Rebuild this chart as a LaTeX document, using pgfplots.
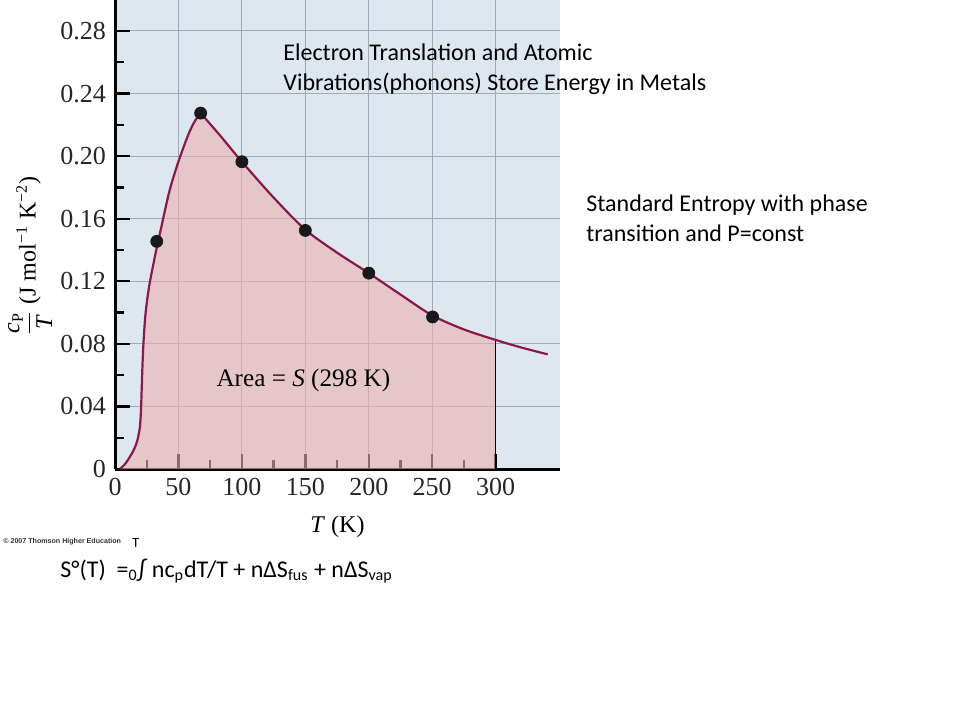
\documentclass[border=0pt]{standalone}
\usepackage{amsmath}
\usepackage{fontspec}
\setmainfont{Liberation Serif}
\newfontfamily\slidefont{Carlito}
\newfontfamily\credfont{Liberation Sans}
\usepackage{pgfplots}
\usepackage{pgfplotstable}
\pgfplotsset{compat=1.18}

\definecolor{bgblue}{RGB}{220,231,240}
\definecolor{areapink}{RGB}{235,179,177}
\definecolor{curvered}{RGB}{140,24,72}
\definecolor{gridgrey}{RGB}{160,170,182}

% c_P/T curve: rising part and falling part
\pgfplotstableread{
T     c
3.9   0
8     0.0033
11.8  0.0079
15    0.0125
17.5  0.018
19.5  0.026
20.4  0.036
21.0  0.050
21.6  0.065
22.4  0.080
23.8  0.097
25.5  0.109
27.6  0.120
32    0.138
37    0.1565
43    0.178
50    0.1965
57.9  0.2140
63    0.2225
67.5  0.2275
}\cprise

\pgfplotstableread{
T     c
67.5  0.2275
83    0.2130
100   0.1964
125   0.1735
150   0.1530
175   0.1383
200   0.1252
225   0.1115
250   0.0982
275   0.0892
300   0.0825
320   0.0777
341   0.0733
}\cpfall

% the shaded area, 0 to 298 K
\pgfplotstableread{
T     c
3.9   0
8     0.0033
11.8  0.0079
15    0.0125
17.5  0.018
19.5  0.026
20.4  0.036
21.0  0.050
21.6  0.065
22.4  0.080
23.8  0.097
25.5  0.109
27.6  0.120
32    0.138
37    0.1565
43    0.178
50    0.1965
57.9  0.2140
63    0.2225
67.5  0.2275
83    0.2130
100   0.1964
125   0.1735
150   0.1530
175   0.1383
200   0.1252
225   0.1115
250   0.0982
275   0.0892
300   0.0825
}\cparea

% measured points
\pgfplotstableread{
T     c
32.9  0.1455
67.5  0.2275
100   0.1964
150   0.1525
200   0.1252
250.3 0.0972
}\cpdata

\begin{document}
\begin{tikzpicture}
\useasboundingbox (0,0) rectangle (480pt,360pt);
\begin{axis}[
  at={(57.5pt,125.5pt)}, anchor=south west,
  scale only axis, width=222.5pt, height=234.5pt,
  xmin=0, xmax=350.7, ymin=0, ymax=0.2998,
  axis x line=bottom, axis y line=left,
  axis line style={-, black, line width=1.5pt},
  axis background/.style={fill=bgblue},
  xtick={0,50,100,150,200,250,300},
  xticklabels={0,50,100,150,200,250,300},
  ytick={0,0.04,0.08,0.12,0.16,0.20,0.24,0.28},
  yticklabels={0,0.04,0.08,0.12,0.16,0.20,0.24,0.28},
  minor x tick num=1, minor y tick num=1,
  tick align=inside,
  major tick length=7.5pt, minor tick length=4.5pt,
  tick style={black, line width=1.2pt},
  grid=major, major grid style={gridgrey, line width=0.5pt},
  ticklabel style={font=\fontsize{13}{13}\selectfont, text=black!85},
  yticklabel style={anchor=east, xshift=-1pt},
  xticklabel style={anchor=north, yshift=-1pt},
  xlabel={\textit{T} (K)},
  xlabel style={at={(axis description cs:0.5,0)}, anchor=base, yshift=-31.5pt,
    font=\fontsize{12}{12}\selectfont},
]
\addplot[fill=areapink, fill opacity=0.6, draw=none, smooth, tension=0.5]
  table[x=T, y=c] {\cparea} \closedcycle;
\addplot[black, line width=0.8pt] coordinates {(300,0) (300,0.0825)};
\addplot[curvered, line width=1.1pt, smooth, tension=0.5] table[x=T, y=c] {\cprise};
\addplot[curvered, line width=1.1pt, smooth, tension=0.5] table[x=T, y=c] {\cpfall};
\addplot[only marks, mark=*, mark size=3pt, black!90, mark options={fill=black!90}]
  table[x=T, y=c] {\cpdata};
\node[font=\fontsize{12.6}{13}\selectfont] at (axis cs:148.5,0.0569)
  {Area = \textit{S} (298 K)};
\end{axis}

% y label, rotated, left of the tick labels
\node[rotate=90, anchor=center, font=\fontsize{12}{12}\selectfont] at (15pt,232pt)
  {$\dfrac{\textit{c}_{\textrm{P}}}{\textit{T}}$ (J mol\textsuperscript{−1} K\textsuperscript{−2})};

\begin{scope}[font=\slidefont\fontsize{12}{15}\selectfont]
\node[anchor=base west, inner sep=0] at (141.5pt,330pt) {Electron Translation and Atomic};
\node[anchor=base west, inner sep=0] at (141.5pt,315pt) {Vibrations(phonons) Store Energy in Metals};
\node[anchor=base west, inner sep=0] at (293pt,254.5pt) {Standard Entropy with phase};
\node[anchor=base west, inner sep=0] at (293pt,239.5pt) {transition and P=const};
\node[anchor=base west, inner sep=0] at (30pt,71.5pt)
  {S°(T)\ \ =\textsubscript{0}∫ nc\textsubscript{p}dT/T + nΔS\textsubscript{fus} + nΔS\textsubscript{vap}};
\end{scope}
\node[anchor=base west, inner sep=0, font=\slidefont\fontsize{7}{7}\selectfont] at (66pt,86.5pt) {T};
\node[anchor=base west, inner sep=0, font=\credfont\bfseries\fontsize{3.55}{4}\selectfont, text=black!80]
  at (1.5pt,88.5pt) {© 2007 Thomson Higher Education};
\end{tikzpicture}
\end{document}
